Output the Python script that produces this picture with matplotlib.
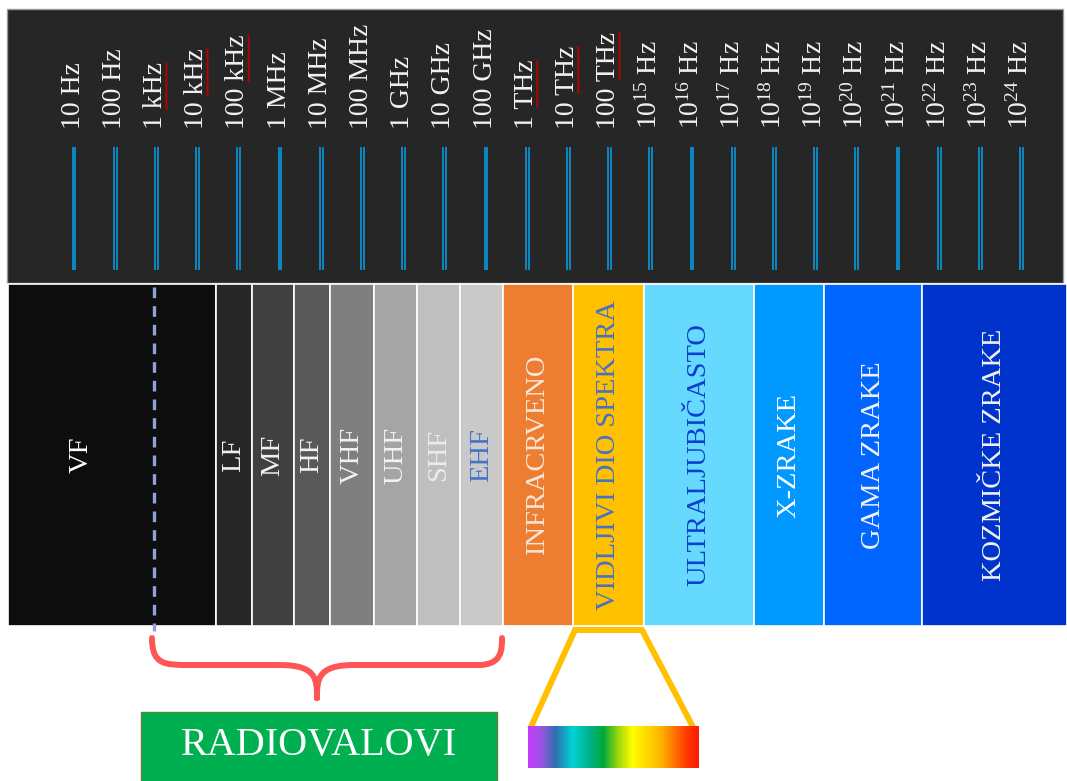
import numpy as np
import matplotlib
matplotlib.use("Agg")
import matplotlib.pyplot as plt
from matplotlib.path import Path
from matplotlib.patches import PathPatch, Rectangle
from matplotlib.colors import LinearSegmentedColormap

plt.rcParams['font.family'] = ['Liberation Serif', 'DejaVu Serif']
plt.rcParams['mathtext.fontset'] = 'custom'
plt.rcParams['mathtext.rm'] = 'Liberation Serif'
plt.rcParams['mathtext.it'] = 'Liberation Serif'

# frequency scale labels (one per decade)
freqLabels = ['10 Hz', '100 Hz', '1 kHz', '10 kHz', '100 kHz', '1 MHz', '10 MHz', '100 MHz',
              '1 GHz', '10 GHz', '100 GHz', '1 THz', '10 THz', '100 THz',
              '10$^{15}$ Hz', '10$^{16}$ Hz', '10$^{17}$ Hz', '10$^{18}$ Hz', '10$^{19}$ Hz',
              '10$^{20}$ Hz', '10$^{21}$ Hz', '10$^{22}$ Hz', '10$^{23}$ Hz', '10$^{24}$ Hz']
underlined = ['1 kHz', '10 kHz', '100 kHz', '1 THz', '10 THz', '100 THz']

# spectrum bands
bandNames = ['VF', 'LF', 'MF', 'HF', 'VHF', 'UHF', 'SHF', 'EHF', 'INFRACRVENO',
             'VIDLJIVI DIO SPEKTRA', 'ULTRALJUBIČASTO', 'X-ZRAKE', 'GAMA ZRAKE', 'KOZMIČKE ZRAKE']
bandEdges = [8, 216, 252, 294, 330, 374, 417, 460, 503, 573, 644, 754, 824, 922, 1067]
bandColors = ['#0d0d0d', '#262626', '#404040', '#595959', '#7f7f7f', '#a5a5a5', '#bfbfbf',
              '#c9c9c9', '#ed7d31', '#ffc000', '#66d9ff', '#0099ff', '#0066ff', '#0033cc']
textColors = ['#ffffff', '#f2f2f2', '#f2f2f2', '#f2f2f2', '#f2f2f2', '#f2f2f2', '#ececec',
              '#4472c4', '#fbe5d6', '#4472c4', '#0b3fcf', '#ffffff', '#f2f2f2', '#f2f2f2']

rainbowStops = [0.0, 0.08, 0.16, 0.26, 0.36, 0.44, 0.53, 0.61, 0.78, 0.93, 1.0]
rainbowColors = ['#c43cff', '#9a55e0', '#2f6fae', '#00d2d6', '#00b28a', '#00a83c',
                 '#9ed80a', '#ffff00', '#ffb400', '#ff3a00', '#ff1a00']

fig = plt.figure(figsize=(10.67, 7.81), dpi=100)
ax = fig.add_axes([0, 0, 1, 1])
ax.set_xlim(0, 1067)
ax.set_ylim(781, 0)
ax.axis('off')

# top dark panel with decade scale
ax.add_patch(Rectangle((7, 9), 1056, 274, facecolor='#262626', edgecolor='#9a9a9a', lw=1))
x0 = 74
step = 41.2
freqText = []
for i, lab in enumerate(freqLabels):
    x = x0 + i * step
    t = ax.text(x - 1, 129, lab, rotation=90, ha='center', va='bottom',
                color='#f2f2f2', fontsize=20)
    freqText.append(t)
    ax.vlines([x - 1.4, x + 1.4], 147, 270, color='#0a8fd0', lw=1.3)

# bands
lefts = np.array(bandEdges[:-1])
widths = np.diff(bandEdges)
ax.bar(lefts, 342, width=widths, bottom=284, align='edge', color=bandColors,
       edgecolor='white', linewidth=1.2)
dashX = 154
for i, name in enumerate(bandNames):
    if i == 0:
        cx = (bandEdges[0] + dashX) / 2
    else:
        cx = (bandEdges[i] + bandEdges[i + 1]) / 2
    ax.text(cx, 455, name, rotation=90, ha='center', va='center',
            color=textColors[i], fontsize=20.5)
ax.plot([dashX, dashX], [287, 631], color='#8fa3d9', lw=2.4, ls=(0, (3.2, 2.4)))

# brace under the radio bands
verts = [(152, 638), (152, 665), (165, 665), (190, 665),
         (260, 665), (280, 665),
         (317, 665), (317, 680), (317, 698),
         (317, 680), (317, 665), (354, 665),
         (460, 665), (478, 665),
         (502, 665), (502, 650), (502, 638)]
codes = [Path.MOVETO, Path.CURVE4, Path.CURVE4, Path.CURVE4,
         Path.LINETO, Path.LINETO,
         Path.CURVE4, Path.CURVE4, Path.CURVE4,
         Path.CURVE4, Path.CURVE4, Path.CURVE4,
         Path.LINETO, Path.LINETO,
         Path.CURVE4, Path.CURVE4, Path.CURVE4]
ax.add_patch(PathPatch(Path(verts, codes), facecolor='none', edgecolor='#ff5555',
                       lw=4.3, capstyle='round', joinstyle='round'))

ax.add_patch(Rectangle((141, 712), 356, 80, facecolor='#00b050', edgecolor='#5e7f3a', lw=1))
ax.text(319, 746, 'RADIOVALOVI', ha='center', va='center', color='white', fontsize=29)

# zoom of the visible band
ax.plot([530, 575, 642, 693], [729, 630, 630, 727], color='#ffc000', lw=4.3,
        solid_joinstyle='miter', solid_capstyle='butt')
cmap = LinearSegmentedColormap.from_list('vis', list(zip(rainbowStops, rainbowColors)))
ax.imshow(np.linspace(0, 1, 256)[None, :], cmap=cmap, aspect='auto',
          extent=(528, 699, 768, 726), zorder=3)

# spell-check squiggles under kHz / THz
fig.canvas.draw()
renderer = fig.canvas.get_renderer()
for t in freqText:
    if t.get_text() in underlined:
        bb = t.get_window_extent(renderer)
        top = 781 - bb.y1
        xs = bb.x1 - 1.5
        ys = np.arange(top + 1, top + 48, 1.5)
        zig = xs + np.where(np.arange(len(ys)) % 2 == 0, -0.8, 0.8)
        ax.plot(zig, ys, color='#c00000', lw=0.9)

fig.savefig('out.png', dpi=100)
